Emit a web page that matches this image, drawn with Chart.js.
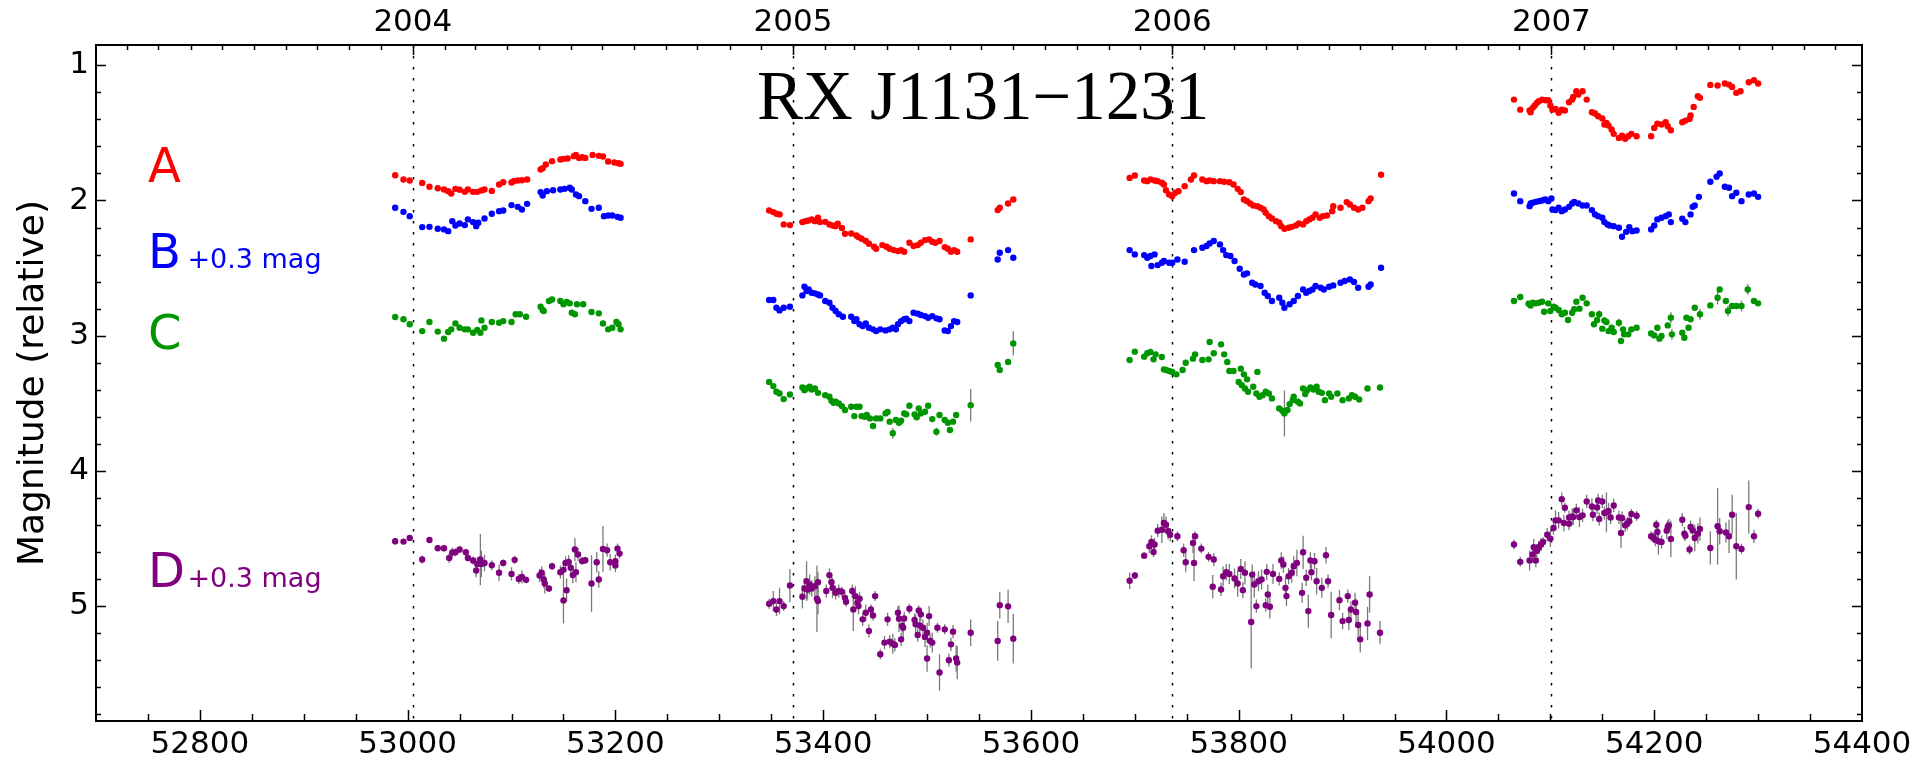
<!DOCTYPE html>
<html>
<head>
<meta charset="utf-8">
<title>RX J1131-1231 light curves</title>
<script src="https://cdn.jsdelivr.net/npm/chart.js@4.4.0/dist/chart.umd.min.js"></script>
<style>
  html, body { margin: 0; padding: 0; background: #fff; }
  canvas { display: block; }
</style>
</head>
<body>
<canvas id="lc" width="1920" height="761"></canvas>
<script>
// [MJD, magnitude] or [MJD, magnitude, error]
const A = [
  [52988,1.813],[52996,1.845],[53002,1.852],[53014,1.870],[53021,1.899],[53029,1.909],[53035,1.919],[53039,1.931],[53042,1.948],[53046,1.914],[53050,1.921],[53055,1.936],[53058,1.919],[53063,1.936],[53067,1.936],[53071,1.926],[53074,1.919],[53081,1.929],[53088,1.882],[53092,1.865],[53100,1.867],[53102,1.857],[53106,1.852],[53110,1.850],[53115,1.845],[53128,1.771],[53130,1.761],[53133,1.734],[53139,1.709],[53147,1.697],[53150,1.692],[53154,1.690],[53160,1.672],[53162,1.663],[53165,1.685],[53168,1.680],[53171,1.685],[53178,1.663],[53184,1.670],[53188,1.675],[53193,1.712],[53199,1.719],[53203,1.724],[53205,1.729],
  [53348,2.074],[53352,2.086],[53355,2.098],[53358,2.103],[53362,2.177],[53368,2.182],[53380,2.160],[53383,2.153],[53386,2.148],[53389,2.140],[53392,2.153],[53395,2.128],[53397,2.160],[53402,2.158],[53406,2.177],[53409,2.185],[53412,2.190],[53414,2.172],[53418,2.204],[53421,2.246],[53427,2.244],[53432,2.259],[53434,2.271],[53437,2.283],[53441,2.300],[53444,2.320],[53449,2.342],[53451,2.357],[53457,2.330],[53461,2.342],[53464,2.357],[53468,2.367],[53472,2.374],[53475,2.367],[53478,2.379],[53483,2.313],[53487,2.337],[53491,2.330],[53494,2.313],[53498,2.293],[53502,2.288],[53505,2.305],[53508,2.313],[53512,2.300],[53517,2.345],[53520,2.357],[53523,2.379],[53526,2.367],[53529,2.379],[53542,2.288],[53568,2.071],[53570,2.054],[53578,2.022],[53583,1.993],
  [53695,1.833],[53700,1.815],[53709,1.852],[53712,1.857],[53715,1.845],[53719,1.852],[53722,1.857],[53726,1.869],[53728,1.882],[53730,1.924],[53733,1.956],[53736,1.968],[53739,1.943],[53742,1.931],[53748,1.894],[53754,1.845],[53757,1.815],[53765,1.845],[53769,1.857],[53772,1.852],[53776,1.857],[53782,1.857],[53786,1.862],[53791,1.865],[53795,1.882],[53799,1.914],[53802,1.938],[53805,1.993],[53808,2.005],[53811,2.022],[53814,2.037],[53818,2.042],[53821,2.054],[53824,2.067],[53826,2.091],[53829,2.116],[53832,2.133],[53836,2.153],[53839,2.165],[53841,2.190],[53844,2.209],[53848,2.202],[53851,2.195],[53855,2.185],[53858,2.170],[53862,2.177],[53865,2.153],[53868,2.140],[53871,2.128],[53874,2.103],[53878,2.128],[53881,2.116],[53885,2.111],[53890,2.079],[53891,2.042],[53898,2.054],[53904,2.012],[53907,2.030],[53911,2.054],[53915,2.067],[53919,2.054],[53925,2.005],[53927,1.985],[53937,1.810],
  [54065,1.254],[54071,1.328],[54080,1.335],[54081,1.347],[54083,1.315],[54085,1.298],[54087,1.278],[54089,1.266],[54092,1.254],[54095,1.259],[54098,1.259],[54100,1.298],[54102,1.328],[54105,1.323],[54108,1.352],[54111,1.328],[54114,1.335],[54118,1.273],[54121,1.254],[54122,1.234],[54125,1.192],[54127,1.217],[54131,1.192],[54135,1.254],[54140,1.347],[54143,1.357],[54146,1.377],[54150,1.394],[54152,1.438],[54154,1.426],[54156,1.446],[54159,1.475],[54161,1.507],[54166,1.537],[54169,1.520],[54172,1.544],[54175,1.525],[54178,1.507],[54183,1.525],[54197,1.525],[54200,1.463],[54203,1.433],[54207,1.438],[54211,1.421],[54213,1.451],[54216,1.480],[54227,1.421],[54230,1.409],[54234,1.397],[54235,1.372],[54238,1.308],[54242,1.229],[54244,1.241],[54254,1.145],[54261,1.150],[54268,1.135],[54272,1.143],[54275,1.160],[54279,1.204],[54283,1.192],[54291,1.126],[54296,1.111],[54300,1.135]
];

const B = [
  [52988,2.054],[52996,2.084],[53002,2.116],[53014,2.197],[53021,2.195],[53029,2.209],[53035,2.214],[53039,2.227],[53043,2.153],[53046,2.185],[53050,2.170],[53055,2.182],[53058,2.140],[53063,2.160],[53066,2.190],[53068,2.165],[53074,2.133],[53081,2.098],[53088,2.079],[53092,2.074],[53100,2.034],[53106,2.047],[53110,2.067],[53115,2.025],[53128,1.938],[53130,1.963],[53134,1.931],[53140,1.924],[53147,1.919],[53151,1.914],[53156,1.906],[53158,1.919],[53162,1.956],[53165,1.968],[53171,2.005],[53177,2.062],[53184,2.054],[53189,2.116],[53193,2.111],[53197,2.111],[53202,2.121],[53205,2.128],
  [53348,2.736],[53352,2.736],[53355,2.793],[53358,2.813],[53362,2.793],[53368,2.786],[53380,2.702],[53382,2.638],[53384,2.670],[53386,2.658],[53389,2.682],[53392,2.687],[53395,2.695],[53397,2.702],[53402,2.744],[53406,2.756],[53409,2.793],[53412,2.818],[53415,2.842],[53419,2.860],[53427,2.860],[53430,2.892],[53432,2.879],[53435,2.916],[53438,2.929],[53441,2.909],[53444,2.941],[53448,2.953],[53451,2.966],[53455,2.953],[53460,2.961],[53464,2.953],[53467,2.941],[53470,2.953],[53472,2.916],[53475,2.892],[53478,2.879],[53480,2.874],[53483,2.892],[53487,2.830],[53491,2.837],[53494,2.847],[53498,2.855],[53501,2.867],[53505,2.855],[53509,2.872],[53512,2.879],[53517,2.961],[53520,2.966],[53523,2.929],[53526,2.892],[53529,2.899],[53542,2.702],[53568,2.436],[53570,2.387],[53578,2.367],[53583,2.424],
  [53695,2.367],[53700,2.399],[53709,2.404],[53712,2.424],[53715,2.411],[53719,2.399],[53716,2.485],[53722,2.478],[53726,2.461],[53728,2.448],[53733,2.461],[53736,2.461],[53741,2.436],[53748,2.453],[53757,2.367],[53765,2.350],[53769,2.337],[53772,2.318],[53776,2.300],[53782,2.325],[53785,2.367],[53788,2.404],[53792,2.411],[53796,2.448],[53801,2.505],[53805,2.547],[53808,2.539],[53813,2.608],[53816,2.621],[53821,2.633],[53825,2.682],[53828,2.707],[53832,2.744],[53839,2.719],[53842,2.756],[53844,2.793],[53849,2.768],[53853,2.744],[53857,2.707],[53862,2.658],[53865,2.682],[53868,2.670],[53871,2.658],[53874,2.633],[53879,2.645],[53882,2.658],[53887,2.638],[53891,2.628],[53898,2.608],[53902,2.596],[53907,2.584],[53911,2.603],[53915,2.645],[53925,2.638],[53927,2.621],[53937,2.498],
  [54065,1.948],[54071,2.005],[54080,2.042],[54081,2.022],[54083,2.017],[54086,2.010],[54089,2.005],[54092,2.000],[54095,1.993],[54098,2.005],[54101,1.985],[54102,2.067],[54105,2.071],[54108,2.054],[54111,2.079],[54114,2.067],[54118,2.047],[54121,2.022],[54123,2.010],[54127,2.022],[54131,2.037],[54135,2.037],[54140,2.071],[54143,2.103],[54146,2.116],[54150,2.128],[54152,2.160],[54155,2.177],[54157,2.185],[54161,2.190],[54166,2.202],[54169,2.268],[54173,2.232],[54176,2.197],[54179,2.227],[54183,2.222],[54197,2.214],[54200,2.185],[54203,2.140],[54207,2.128],[54211,2.116],[54214,2.103],[54216,2.160],[54227,2.135],[54230,2.160],[54235,2.103],[54237,2.047],[54239,2.037],[54243,1.973],[54254,1.862],[54260,1.825],[54263,1.800],[54268,1.899],[54272,1.906],[54275,1.968],[54279,1.943],[54284,2.005],[54291,1.956],[54296,1.948],[54300,1.973]
];

const C = [
  [52988,2.862],[52996,2.879],[53002,2.916],[53014,2.966],[53021,2.899],[53029,2.970],[53035,3.022],[53039,2.973],[53042,2.953],[53046,2.909],[53050,2.941],[53055,2.953],[53058,2.953],[53063,2.978],[53067,2.958],[53070,2.978],[53071,2.887],[53074,2.941],[53081,2.899],[53088,2.904],[53092,2.892],[53100,2.899],[53104,2.842],[53108,2.842],[53114,2.860],[53128,2.786],[53130,2.810],[53131,2.818],[53136,2.744],[53139,2.732],[53147,2.744],[53150,2.768],[53153,2.751],[53156,2.761],[53158,2.830],[53161,2.842],[53163,2.768],[53169,2.768],[53177,2.825],[53184,2.835],[53188,2.909],[53193,2.953],[53197,2.941],[53201,2.899],[53203,2.916],[53205,2.953],
  [53348,3.342],[53352,3.373],[53355,3.415],[53358,3.428],[53362,3.469],[53368,3.435],[53380,3.383],[53382,3.403],[53384,3.391],[53387,3.378],[53389,3.398],[53392,3.391],[53395,3.423],[53402,3.440],[53406,3.452],[53408,3.482],[53410,3.496],[53412,3.489],[53415,3.501],[53418,3.521],[53421,3.550],[53427,3.526],[53430,3.595],[53432,3.526],[53435,3.526],[53437,3.595],[53440,3.600],[53442,3.587],[53445,3.612],[53448,3.668],[53451,3.612],[53455,3.612],[53460,3.575],[53462,3.565],[53464,3.636],[53467,3.722,0.04],[53470,3.624],[53473,3.644],[53475,3.629],[53478,3.575],[53480,3.582],[53483,3.518],[53488,3.582],[53490,3.604],[53492,3.538],[53494,3.575],[53498,3.563],[53501,3.518],[53505,3.617],[53509,3.710,0.03],[53512,3.587],[53517,3.624],[53520,3.644],[53522,3.698],[53525,3.636],[53528,3.587],[53542,3.514,0.12],[53568,3.217],[53570,3.254],[53578,3.195],[53583,3.057,0.09],
  [53695,3.180],[53700,3.118],[53709,3.155],[53712,3.130],[53715,3.121],[53718,3.175],[53720,3.138],[53726,3.158],[53728,3.249],[53730,3.254],[53733,3.261],[53736,3.268],[53740,3.286],[53746,3.254],[53749,3.200],[53756,3.170],[53758,3.138],[53765,3.180],[53771,3.175],[53772,3.047],[53776,3.130],[53783,3.064],[53786,3.138],[53789,3.195],[53791,3.261],[53795,3.261],[53800,3.342],[53802,3.244],[53803,3.366],[53805,3.286],[53806,3.391],[53808,3.323],[53809,3.415],[53814,3.378],[53817,3.428],[53818,3.268],[53820,3.452],[53823,3.440],[53826,3.415],[53829,3.428],[53832,3.464],[53839,3.538],[53842,3.555],[53844,3.575,0.17],[53847,3.550],[53849,3.506],[53852,3.477],[53853,3.452],[53857,3.489],[53859,3.501],[53862,3.391],[53864,3.432],[53866,3.403],[53869,3.383],[53872,3.398],[53875,3.378],[53877,3.415],[53880,3.423],[53883,3.477],[53887,3.428],[53889,3.452],[53895,3.428],[53900,3.477],[53906,3.464],[53909,3.440],[53912,3.452],[53916,3.472],[53924,3.391],[53936,3.383],
  [54065,2.744],[54071,2.714],[54079,2.764],[54081,2.776],[54083,2.756],[54086,2.761],[54089,2.756],[54092,2.749],[54094,2.823],[54098,2.761],[54100,2.818],[54103,2.786],[54105,2.793],[54108,2.810],[54111,2.842],[54114,2.830],[54117,2.884],[54121,2.830],[54123,2.805],[54125,2.749],[54128,2.800],[54131,2.719],[54135,2.761],[54140,2.842],[54142,2.916],[54145,2.884],[54147,2.842,0.03],[54150,2.948],[54152,2.887],[54154,2.899],[54156,2.966],[54159,2.941],[54161,2.973],[54166,2.904,0.03],[54168,3.039],[54170,2.953],[54171,2.990],[54175,2.990],[54178,2.953],[54183,2.941],[54197,2.983],[54200,2.998],[54203,2.941],[54205,3.022],[54207,3.002],[54213,2.924],[54216,2.867,0.04],[54217,2.990,0.04],[54227,2.978],[54229,3.015],[54231,2.867],[54233,2.941],[54235,2.879],[54239,2.793],[54244,2.842,0.04],[54254,2.776],[54261,2.719,0.05],[54263,2.658],[54269,2.744],[54271,2.818,0.04],[54275,2.781],[54279,2.781],[54284,2.781,0.04],[54290,2.658,0.04],[54296,2.744],[54300,2.761]
];

const D = [
  [52988,4.521,0.025],[52996,4.523,0.02],[53002,4.496,0.015],[53014,4.656,0.03],[53021,4.511,0.02],[53029,4.572,0.02],[53035,4.572,0.025],[53040,4.644,0.037],[53043,4.604,0.037],[53046,4.602,0.03],[53050,4.582,0.025],[53056,4.602,0.025],[53058,4.644,0.025],[53063,4.663,0.03],[53066,4.737,0.049],[53067,4.688,0.049],[53070,4.656,0.19],[53071,4.688,0.098],[53074,4.681,0.061],[53081,4.698,0.037],[53088,4.754,0.061],[53092,4.681,0.025],[53100,4.762,0.049],[53103,4.658,0.03],[53107,4.799,0.037],[53110,4.784,0.049],[53114,4.806,0.025],[53127,4.774,0.049],[53129,4.754,0.049],[53131,4.803,0.061],[53132,4.833,0.074],[53136,4.870,0.025],[53139,4.705,0.025],[53147,4.749,0.049],[53150,4.732,0.061],[53150,4.958,0.17],[53152,4.681,0.049],[53153,4.882,0.086],[53155,4.673,0.049],[53157,4.717,0.049],[53159,4.771,0.061],[53161,4.582,0.086],[53162,4.749,0.074],[53164,4.619,0.049],[53168,4.666,0.03],[53171,4.661,0.025],[53177,4.833,0.21],[53182,4.676,0.074],[53184,4.803,0.061],[53188,4.577,0.17],[53192,4.587,0.049],[53195,4.676,0.061],[53200,4.668,0.049],[53200,4.700,0.049],[53202,4.575,0.037],[53204,4.612,0.037],
  [53348,4.983,0.037],[53352,4.963,0.074],[53355,5.025,0.049],[53358,4.963,0.098],[53362,5.000,0.037],[53368,4.848,0.123],[53380,4.931,0.086],[53382,4.870,0.074],[53384,4.816,0.147],[53385,4.877,0.074],[53387,4.840,0.074],[53389,4.870,0.061],[53392,4.853,0.074],[53394,4.946,0.246],[53395,4.963,0.098],[53395,4.823,0.074],[53403,4.889,0.049],[53406,4.771,0.049],[53408,4.823,0.061],[53409,4.865,0.074],[53412,4.902,0.049],[53415,4.889,0.049],[53418,4.894,0.037],[53421,4.939,0.049],[53422,4.968,0.037],[53428,4.889,0.049],[53429,5.025,0.16],[53431,4.926,0.074],[53433,4.975,0.049],[53434,5.000,0.061],[53435,4.946,0.049],[53438,5.098,0.049],[53441,5.049,0.061],[53444,5.184,0.049],[53446,5.025,0.037],[53448,5.069,0.037],[53450,4.926,0.037],[53455,5.356,0.037],[53459,5.270,0.049],[53462,5.098,0.049],[53464,5.263,0.049],[53467,5.278,0.074],[53469,5.287,0.049],[53472,5.049,0.049],[53473,5.093,0.098],[53475,5.246,0.049],[53476,5.147,0.049],[53477,5.160,0.074],[53478,5.091,0.049],[53483,5.020,0.037],[53488,5.103,0.049],[53489,5.135,0.074],[53491,5.214,0.049],[53492,5.032,0.037],[53493,5.143,0.061],[53494,5.061,0.049],[53496,5.160,0.061],[53498,5.228,0.074],[53500,5.197,0.074],[53500,5.388,0.098],[53502,5.074,0.074],[53503,5.258,0.049],[53505,5.270,0.074],[53510,5.160,0.037],[53512,5.491,0.135],[53517,5.172,0.037],[53521,5.400,0.049],[53523,5.283,0.049],[53525,5.189,0.049],[53528,5.388,0.098],[53529,5.418,0.123],[53542,5.197,0.098],[53568,5.258,0.147],[53570,4.993,0.098],[53578,5.002,0.123],[53583,5.241,0.184],
  [53695,4.813,0.061],[53700,4.774,0.025],[53709,4.627,0.025],[53714,4.558,0.049],[53716,4.526,0.049],[53718,4.600,0.037],[53719,4.545,0.049],[53722,4.442,0.049],[53726,4.435,0.098],[53728,4.386,0.074],[53730,4.398,0.061],[53732,4.447,0.061],[53734,4.472,0.049],[53741,4.484,0.037],[53747,4.587,0.049],[53749,4.676,0.074],[53756,4.533,0.074],[53757,4.681,0.135],[53758,4.484,0.037],[53764,4.575,0.037],[53771,4.636,0.037],[53775,4.857,0.086],[53776,4.656,0.049],[53783,4.877,0.049],[53785,4.779,0.074],[53788,4.749,0.061],[53791,4.762,0.074],[53796,4.796,0.074],[53799,4.833,0.098],[53802,4.725,0.074],[53804,4.882,0.061],[53806,4.754,0.086],[53812,5.118,0.344],[53813,4.767,0.074],[53815,4.840,0.098],[53817,5.000,0.049],[53819,4.816,0.074],[53822,4.803,0.074],[53826,4.993,0.049],[53827,4.747,0.061],[53828,4.914,0.074],[53830,5.005,0.086],[53833,4.762,0.074],[53839,4.799,0.049],[53841,4.663,0.061],[53843,4.693,0.061],[53845,4.865,0.074],[53846,4.926,0.074],[53848,4.779,0.061],[53851,4.754,0.074],[53853,4.705,0.074],[53856,4.681,0.098],[53861,4.902,0.074],[53862,4.602,0.123],[53865,4.791,0.061],[53867,5.037,0.123],[53869,4.663,0.061],[53870,4.749,0.061],[53873,4.668,0.061],[53875,4.816,0.098],[53880,4.865,0.074],[53884,4.624,0.061],[53886,4.816,0.049],[53889,5.066,0.172],[53897,4.956,0.074],[53900,5.111,0.061],[53905,4.926,0.049],[53906,5.103,0.074],[53908,5.025,0.061],[53912,4.975,0.074],[53913,5.044,0.098],[53915,5.140,0.098],[53917,5.246,0.098],[53924,5.128,0.123],[53926,4.914,0.135],[53936,5.197,0.086],
  [54065,4.545,0.037],[54071,4.673,0.037],[54080,4.663,0.074],[54083,4.619,0.061],[54084,4.565,0.061],[54086,4.663,0.049],[54087,4.590,0.049],[54089,4.565,0.049],[54091,4.545,0.049],[54093,4.526,0.037],[54097,4.472,0.049],[54100,4.501,0.061],[54103,4.423,0.049],[54105,4.366,0.074],[54108,4.366,0.061],[54111,4.209,0.049],[54113,4.386,0.061],[54114,4.273,0.037],[54118,4.344,0.049],[54118,4.391,0.049],[54121,4.337,0.061],[54122,4.342,0.061],[54125,4.292,0.049],[54128,4.342,0.074],[54131,4.329,0.049],[54135,4.226,0.049],[54140,4.263,0.061],[54141,4.324,0.049],[54145,4.270,0.049],[54146,4.219,0.049],[54147,4.356,0.049],[54150,4.226,0.049],[54152,4.312,0.049],[54154,4.307,0.147],[54156,4.297,0.061],[54158,4.344,0.049],[54161,4.256,0.049],[54166,4.344,0.049],[54168,4.459,0.11],[54169,4.349,0.049],[54172,4.403,0.049],[54174,4.391,0.049],[54176,4.373,0.037],[54178,4.319,0.037],[54183,4.332,0.037],[54197,4.484,0.037],[54199,4.491,0.037],[54201,4.509,0.049],[54202,4.398,0.037],[54203,4.452,0.049],[54204,4.521,0.098],[54207,4.526,0.049],[54212,4.442,0.061],[54213,4.415,0.049],[54214,4.403,0.049],[54216,4.504,0.135],[54227,4.361,0.049],[54229,4.464,0.049],[54230,4.479,0.037],[54234,4.582,0.037],[54235,4.415,0.049],[54237,4.440,0.049],[54239,4.496,0.098],[54242,4.464,0.074],[54244,4.430,0.086],[54254,4.570,0.123],[54261,4.410,0.283],[54263,4.447,0.098],[54269,4.455,0.074],[54272,4.484,0.123],[54275,4.324,0.147],[54279,4.558,0.246],[54284,4.577,0.037],[54291,4.268,0.197],[54296,4.484,0.049],[54300,4.317,0.037]
];

const xTicks = [52800, 53000, 53200, 53400, 53600, 53800, 54000, 54200, 54400];
const yTicks = [1, 2, 3, 4, 5];
const yearTicks = [53005, 53371, 53736, 54101];
const yearLabels = ['2004', '2005', '2006', '2007'];

const X_MIN = 52700, X_MAX = 54400;
const Y_MIN = 0.85, Y_MAX = 5.85;
const FONT = '"DejaVu Sans", "Bitstream Vera Sans", sans-serif';

const toPoints = arr => arr.map(p => ({ x: p[0], y: p[1], e: p[2] || 0 }));

// first day of each month, as MJD (for the small ticks on the top axis)
function monthStarts() {
  const out = [];
  for (let yr = 2003; yr <= 2008; yr++) {
    for (let m = 0; m < 12; m++) {
      const mjd = Date.UTC(yr, m, 1) / 86400000 + 40587;
      if (mjd > X_MIN && mjd < X_MAX) out.push({ mjd, jan: m === 0 });
    }
  }
  return out;
}

const decor = {
  id: 'decor',
  beforeDatasetsDraw(chart) {
    const { ctx, chartArea: a, scales: { x, y } } = chart;
    ctx.save();
    // dotted new-year lines
    ctx.strokeStyle = '#000';
    ctx.lineWidth = 1.5;
    ctx.setLineDash([2.5, 8.5]);
    yearTicks.forEach(v => {
      const px = Math.round(x.getPixelForValue(v)) + 0.5;
      ctx.beginPath();
      ctx.moveTo(px, a.top);
      ctx.lineTo(px, a.bottom);
      ctx.stroke();
    });
    ctx.setLineDash([]);
    // error bars
    ctx.strokeStyle = '#7a7a7a';
    ctx.lineWidth = 1.3;
    chart.data.datasets.forEach(ds => {
      ds.data.forEach(p => {
        if (!p.e) return;
        const px = x.getPixelForValue(p.x);
        ctx.beginPath();
        ctx.moveTo(px, y.getPixelForValue(p.y - p.e));
        ctx.lineTo(px, y.getPixelForValue(p.y + p.e));
        ctx.stroke();
      });
    });
    ctx.restore();
  },
  afterDraw(chart) {
    const { ctx, chartArea: a, scales: { x, y } } = chart;
    ctx.save();

    // inward ticks
    ctx.strokeStyle = '#000';
    ctx.lineWidth = 1.5;
    ctx.beginPath();
    for (let v = X_MIN + 50; v < X_MAX; v += 50) {
      const px = Math.round(x.getPixelForValue(v)) + 0.5;
      const len = xTicks.includes(v) ? 11 : 7;
      ctx.moveTo(px, a.bottom);
      ctx.lineTo(px, a.bottom - len);
    }
    for (let i = 1; i * 0.2 + 0.8 < Y_MAX; i++) {
      const v = +(0.8 + i * 0.2).toFixed(1);
      const py = Math.round(y.getPixelForValue(v)) + 0.5;
      const len = yTicks.includes(v) ? 10 : 5;
      ctx.moveTo(a.left, py);
      ctx.lineTo(a.left + len, py);
      ctx.moveTo(a.right, py);
      ctx.lineTo(a.right - len, py);
    }
    monthStarts().forEach(m => {
      const px = Math.round(x.getPixelForValue(m.mjd)) + 0.5;
      ctx.moveTo(px, a.top);
      ctx.lineTo(px, a.top + (m.jan ? 10 : 5));
    });
    ctx.stroke();

    // frame
    ctx.lineWidth = 2;
    ctx.strokeRect(a.left, a.top, a.right - a.left, a.bottom - a.top);

    // title
    ctx.fillStyle = '#000';
    ctx.textAlign = 'center';
    ctx.textBaseline = 'alphabetic';
    ctx.font = '69px "Liberation Serif", "DejaVu Serif", serif';
    ctx.fillText('RX J1131\u22121231', x.getPixelForValue(53554), y.getPixelForValue(1.395));

    // image labels
    ctx.textAlign = 'left';
    const labels = [
      ['A', '#ff0000', 1.863, ''],
      ['B', '#0000ff', 2.499, '+0.3 mag'],
      ['C', '#009600', 3.098, ''],
      ['D', '#800080', 4.857, '+0.3 mag']
    ];
    labels.forEach(([t, col, mag, sub]) => {
      ctx.fillStyle = col;
      ctx.font = '48px ' + FONT;
      ctx.fillText(t, x.getPixelForValue(52750), y.getPixelForValue(mag));
      if (sub) {
        ctx.font = '27px ' + FONT;
        ctx.fillText(sub, x.getPixelForValue(52788), y.getPixelForValue(mag));
      }
    });

    // y axis label
    ctx.fillStyle = '#000';
    ctx.font = '36px ' + FONT;
    ctx.textAlign = 'center';
    ctx.textBaseline = 'middle';
    ctx.translate(a.left - 62, (a.top + a.bottom) / 2);
    ctx.rotate(-Math.PI / 2);
    ctx.fillText('Magnitude (relative)', 0, 0);
    ctx.restore();
  }
};

const tickFont = { family: FONT, size: 31 };

new Chart(document.getElementById('lc'), {
  type: 'scatter',
  data: {
    datasets: [
      { label: 'A', data: toPoints(A), backgroundColor: '#ff0000' },
      { label: 'B', data: toPoints(B), backgroundColor: '#0000ff' },
      { label: 'C', data: toPoints(C), backgroundColor: '#009600' },
      { label: 'D', data: toPoints(D), backgroundColor: '#800080' }
    ]
  },
  options: {
    responsive: false,
    animation: false,
    devicePixelRatio: 1,
    layout: { padding: { left: 0, right: 58, top: 0, bottom: 0 } },
    elements: { point: { radius: 3.2, borderWidth: 0, hoverRadius: 3.2 } },
    plugins: { legend: { display: false }, tooltip: { enabled: false } },
    scales: {
      x: {
        type: 'linear', position: 'bottom', min: X_MIN, max: X_MAX,
        grid: { display: false, drawTicks: false }, border: { display: false },
        ticks: { font: tickFont, color: '#000', padding: 5, maxRotation: 0, autoSkip: false, callback: v => String(v) },
        afterBuildTicks: s => { s.ticks = xTicks.map(v => ({ value: v })); },
        afterFit: s => { s.height = 40; s.paddingLeft = 0; s.paddingRight = 0; }
      },
      x2: {
        type: 'linear', position: 'top', min: X_MIN, max: X_MAX,
        grid: { display: false, drawTicks: false }, border: { display: false },
        ticks: { font: tickFont, color: '#000', padding: 3, maxRotation: 0, autoSkip: false,
                 callback: v => yearLabels[yearTicks.indexOf(v)] },
        afterBuildTicks: s => { s.ticks = yearTicks.map(v => ({ value: v })); },
        afterFit: s => { s.height = 45; s.paddingLeft = 0; s.paddingRight = 0; }
      },
      y: {
        type: 'linear', position: 'left', reverse: true, min: Y_MIN, max: Y_MAX,
        grid: { display: false, drawTicks: false }, border: { display: false },
        ticks: { font: tickFont, color: '#000', padding: 7, autoSkip: false, callback: v => String(v) },
        afterBuildTicks: s => { s.ticks = yTicks.map(v => ({ value: v })); },
        afterFit: s => { s.width = 96; s.paddingTop = 0; s.paddingBottom = 0; }
      }
    }
  },
  plugins: [decor]
});
</script>
</body>
</html>
